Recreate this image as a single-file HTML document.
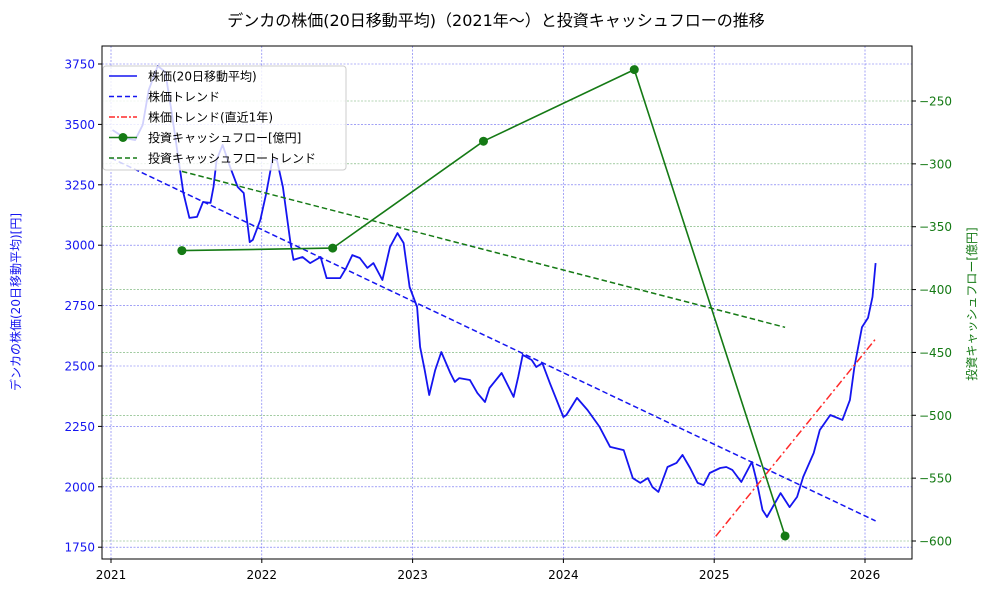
<!DOCTYPE html>
<html><head><meta charset="utf-8"><style>
body{margin:0;background:#fff;}
svg{display:block;font-family:"DejaVu Sans","Noto Sans CJK JP",sans-serif;}
</style></head><body>
<svg id="chart" width="989" height="593" xmlns="http://www.w3.org/2000/svg"></svg>
<script>
const priceYears=[2021.01,2021.09,2021.16,2021.21,2021.25,2021.31,2021.36,2021.40,2021.48,2021.52,2021.57,2021.61,2021.66,2021.68,2021.70,2021.74,2021.79,2021.84,2021.88,2021.92,2021.94,2021.99,2022.03,2022.07,2022.10,2022.14,2022.19,2022.21,2022.27,2022.32,2022.39,2022.43,2022.52,2022.56,2022.60,2022.65,2022.70,2022.74,2022.80,2022.85,2022.90,2022.94,2022.98,2023.03,2023.05,2023.08,2023.11,2023.15,2023.19,2023.25,2023.28,2023.31,2023.38,2023.43,2023.48,2023.51,2023.59,2023.67,2023.70,2023.73,2023.79,2023.82,2023.86,2023.91,2024.00,2024.02,2024.09,2024.16,2024.24,2024.31,2024.40,2024.46,2024.51,2024.56,2024.59,2024.63,2024.69,2024.75,2024.79,2024.84,2024.89,2024.93,2024.97,2025.04,2025.08,2025.12,2025.18,2025.25,2025.28,2025.32,2025.35,2025.44,2025.50,2025.55,2025.59,2025.66,2025.70,2025.77,2025.85,2025.90,2025.93,2025.98,2026.02,2026.05,2026.07];
const priceValues=[3477,3444,3435,3498,3642,3742,3717,3560,3216,3113,3117,3179,3175,3241,3353,3415,3324,3241,3216,3013,3022,3104,3216,3353,3353,3241,3009,2939,2951,2926,2951,2864,2864,2906,2959,2947,2906,2926,2856,2993,3050,3009,2827,2744,2579,2483,2380,2483,2558,2471,2434,2450,2442,2388,2351,2409,2471,2372,2455,2546,2525,2496,2512,2430,2289,2297,2368,2318,2248,2165,2152,2036,2016,2036,1999,1979,2082,2099,2132,2078,2016,2007,2057,2078,2082,2070,2020,2103,2028,1904,1875,1974,1916,1958,2041,2140,2235,2297,2277,2359,2496,2661,2699,2786,2926];
const trendYears=[2021.0,2026.07];
const trendValues=[3361,1859];
const recentYears=[2025.01,2026.07];
const recentValues=[1795,2612];
const cfYears=[2021.47,2022.47,2023.47,2024.47,2025.47];
const cfValues=[-369,-367,-282,-225,-596];
const cfTrendYears=[2021.47,2025.47];
const cfTrendValues=[-306,-430];
const xTicks=[2021,2022,2023,2024,2025,2026];
const yLeftTicks=[1750,2000,2250,2500,2750,3000,3250,3500,3750];
const yRightTicks=[-600,-550,-500,-450,-400,-350,-300,-250];

const NS="http://www.w3.org/2000/svg";
const svg=document.getElementById('chart');
const L=102,R=912,T=46,B=559;
const X=v=>111+(v-2021)*150.8;
const YL=v=>64+(3750-v)*60.4/250;
const YR=v=>101+(-250-v)*440/350;
function el(tag,attrs,parent){const e=document.createElementNS(NS,tag);for(const k in attrs)e.setAttribute(k,attrs[k]);(parent||svg).appendChild(e);return e;}
function txt(s,attrs,name){const e=el('text',attrs);e.textContent=s;


return e;}

txt('デンカの株価(20日移動平均)（2021年〜）と投資キャッシュフローの推移',{x:496,y:26,'text-anchor':'middle','font-size':16,fill:'#000'},'chart-title');

yRightTicks.forEach(v=>{const l=el('line',{x1:L,x2:R,y1:YR(v),y2:YR(v),stroke:'#2a8a2a','stroke-width':0.6,'stroke-dasharray':'2,1.5',opacity:0.7});

});
yLeftTicks.forEach(v=>{const l=el('line',{x1:L,x2:R,y1:YL(v),y2:YL(v),stroke:'#4444ee','stroke-width':0.6,'stroke-dasharray':'2,1.5',opacity:0.8});

});
xTicks.forEach(v=>{const l=el('line',{x1:X(v),x2:X(v),y1:T,y2:B,stroke:'#4444ee','stroke-width':0.6,'stroke-dasharray':'2,1.5',opacity:0.8});

});

function poly(xs,ys,fx,fy,attrs,name){const p=el('polyline',Object.assign({points:xs.map((x,i)=>fx(x).toFixed(1)+','+fy(ys[i]).toFixed(1)).join(' '),fill:'none'},attrs));

return p;}

poly(priceYears,priceValues,X,YL,{stroke:'#1515f0','stroke-width':1.8,'stroke-linejoin':'round'},'price-line');
poly(trendYears,trendValues,X,YL,{stroke:'#1515f0','stroke-width':1.5,'stroke-dasharray':'5.5,3'},'price-trend-line');
poly(recentYears,recentValues,X,YL,{stroke:'#ff2a2a','stroke-width':1.5,'stroke-dasharray':'8,3,2,3'},'recent-trend-line');
poly(cfYears,cfValues,X,YR,{stroke:'#157a15','stroke-width':1.6},'cashflow-line');
cfYears.forEach((y,i)=>{const c=el('circle',{cx:X(y),cy:YR(cfValues[i]),r:4.5,fill:'#157a15'});

});
poly(cfTrendYears,cfTrendValues,X,YR,{stroke:'#157a15','stroke-width':1.5,'stroke-dasharray':'5.5,3'},'cashflow-trend-line');

const fr=el('rect',{x:L,y:T,width:R-L,height:B-T,fill:'none',stroke:'#000','stroke-width':1});



xTicks.forEach(v=>{el('line',{x1:X(v),x2:X(v),y1:B,y2:B+4,stroke:'#000'});
txt(String(v),{x:X(v),y:B+20,'text-anchor':'middle','font-size':12,fill:'#000'},'x-tick-label');});
yLeftTicks.forEach(v=>{el('line',{x1:L-4,x2:L,y1:YL(v),y2:YL(v),stroke:'#000'});
txt(String(v),{x:L-7,y:YL(v)+4.5,'text-anchor':'end','font-size':12,fill:'#1515f0'},'left-tick-label');});
yRightTicks.forEach(v=>{el('line',{x1:R,x2:R+4,y1:YR(v),y2:YR(v),stroke:'#000'});
txt('−'+Math.abs(v),{x:R+7,y:YR(v)+4.5,'text-anchor':'start','font-size':12,fill:'#157a15'},'right-tick-label');});

txt('デンカの株価(20日移動平均)[円]',{x:0,y:0,transform:'translate(20,302) rotate(-90)','text-anchor':'middle','font-size':12,fill:'#1515f0'},'left-axis-title');
txt('投資キャッシュフロー[億円]',{x:0,y:0,transform:'translate(976,304) rotate(-90)','text-anchor':'middle','font-size':12,fill:'#157a15'},'right-axis-title');

const lg=el('rect',{x:103,y:66,width:243,height:104,rx:3,fill:'#fff','fill-opacity':0.8,stroke:'#ccc'});


const items=[['株価(20日移動平均)','#1515f0','none',false],['株価トレンド','#1515f0','5,3',false],['株価トレンド(直近1年)','#ff2a2a','6,2,2,2',false],['投資キャッシュフロー[億円]','#157a15','none',true],['投資キャッシュフロートレンド','#157a15','5,3',false]];
items.forEach((it,i)=>{const y=76+i*20.5;
el('line',{x1:109,x2:137,y1:y,y2:y,stroke:it[1],'stroke-width':1.6,'stroke-dasharray':it[2]});
if(it[3])el('circle',{cx:123,cy:y,r:4.5,fill:it[1]});
txt(it[0],{x:148,y:y+4.5,'font-size':12,fill:'#000'},'legend-entry');});
</script>
</body></html>
